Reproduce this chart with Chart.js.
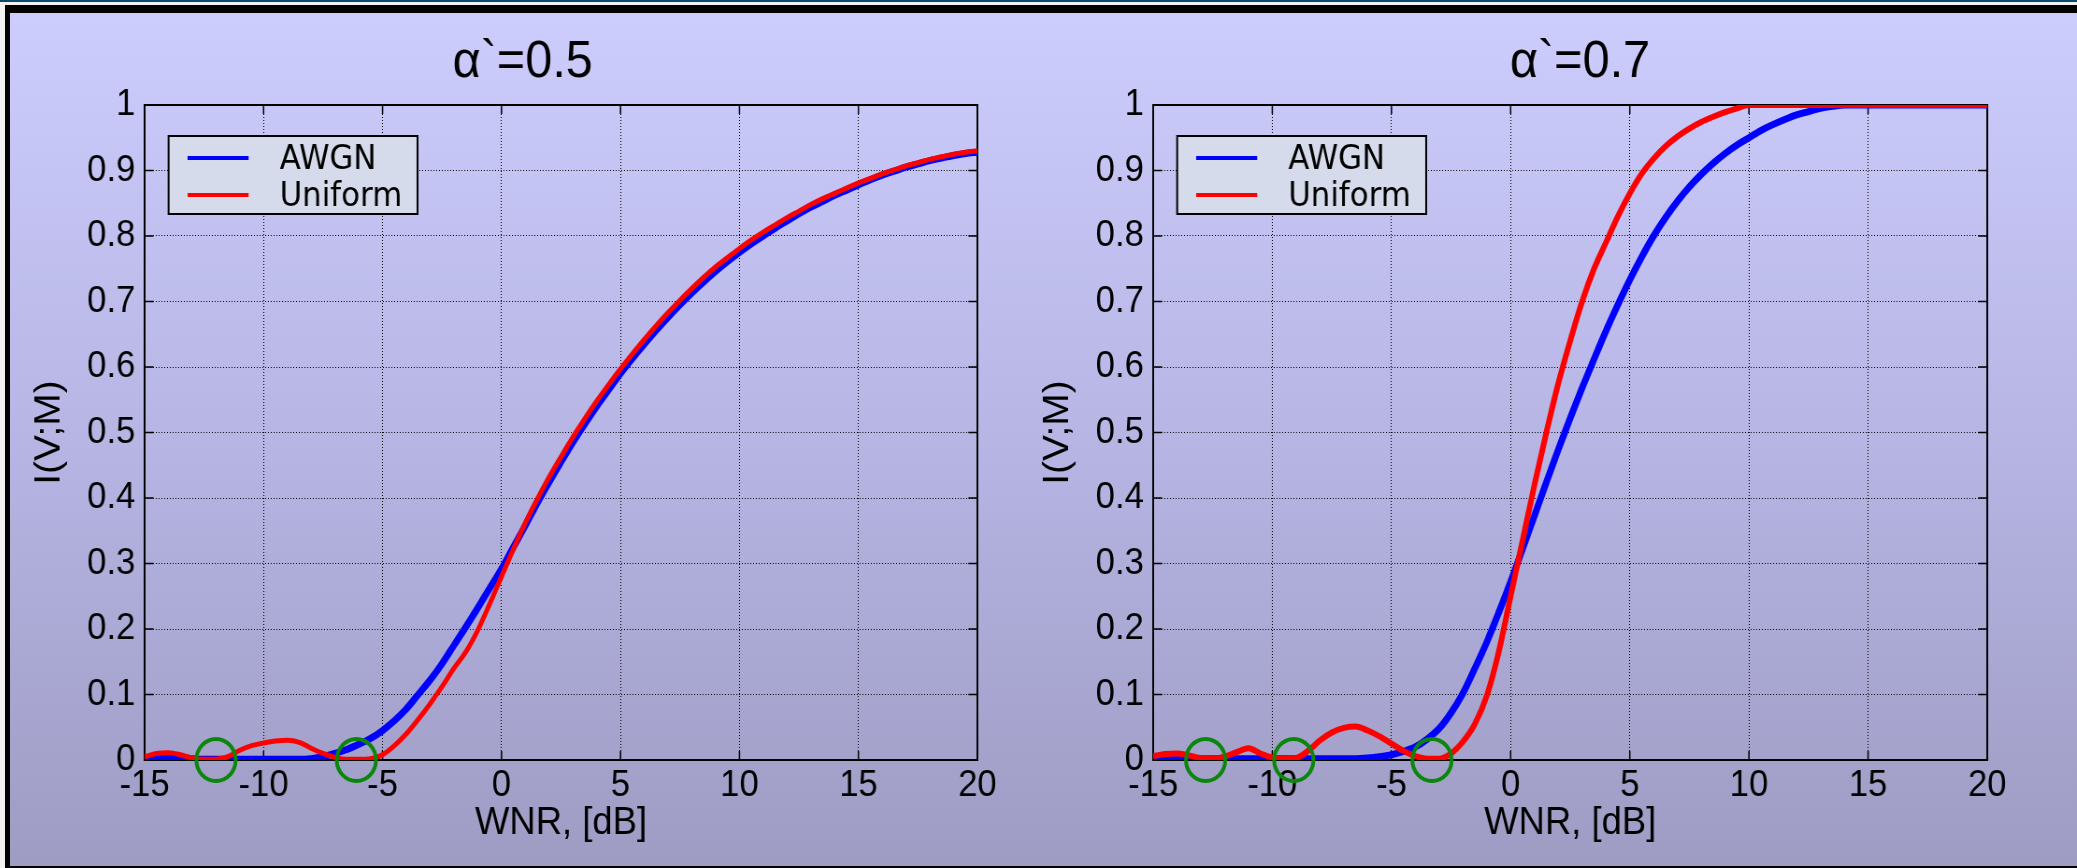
<!DOCTYPE html>
<html>
<head>
<meta charset="utf-8">
<script src="https://cdn.jsdelivr.net/npm/chart.js@4.4.1/dist/chart.umd.min.js"></script>
<style>
  html, body { margin: 0; padding: 0; background: #fff; }
  #page { position: relative; width: 2077px; height: 868px; overflow: hidden; background: #f2f2f2; }
  #topline { position: absolute; left: 0; top: 0; width: 2077px; height: 2px; background: #0c4a6c; }
  #frame { position: absolute; left: 5px; top: 5px; width: 2072px; height: 863px; background: #000; }
  #panel { position: absolute; left: 10px; top: 13px; width: 2067px; height: 853px;
           background: linear-gradient(to bottom, #cdcdfd 0%, #b6b5e4 50%, #9e9cc3 100%); }
  canvas { position: absolute; top: 13px; }
  #left { left: 10px; }
  #right { left: 1040px; }
</style>
</head>
<body>
<div id="page">
  <div id="topline"></div>
  <div id="frame"></div>
  <div id="panel"></div>
  <!-- the original figure is squeezed horizontally, so the canvases are drawn wider and shown narrower -->
  <canvas id="left" width="1102" height="853" style="width:1030px;height:853px"></canvas>
  <canvas id="right" width="1109" height="853" style="width:1037px;height:853px"></canvas>
</div>
<script>
// x samples (WNR in dB), shared by all curves
var wnr = [-15, -14.5, -14, -13.5, -13, -12.5, -12, -11.5, -11, -10.5,
           -10, -9.5, -9, -8.5, -8, -7.5, -7, -6.5, -6, -5.5,
           -5, -4.5, -4, -3.5, -3, -2.5, -2, -1.5, -1, -0.5,
           0, 0.5, 1, 1.5, 2, 2.5, 3, 3.5, 4, 4.5,
           5, 5.5, 6, 6.5, 7, 7.5, 8, 8.5, 9, 9.5,
           10, 10.5, 11, 11.5, 12, 12.5, 13, 13.5, 14, 14.5,
           15, 15.5, 16, 16.5, 17, 17.5, 18, 18.5, 19, 19.5,
           20];

// alpha' = 0.5
var awgn05 = [0.002, 0.004, 0.005, 0.004, 0.002, 0.001, 0.001, 0.001, 0.001, 0.001,
              0.001, 0.001, 0.001, 0.001, 0.002, 0.005, 0.010, 0.016, 0.024, 0.033,
              0.045, 0.060, 0.078, 0.100, 0.122, 0.147, 0.175, 0.203, 0.232, 0.262,
              0.292, 0.325, 0.358, 0.392, 0.424, 0.455, 0.485, 0.513, 0.540, 0.565,
              0.590, 0.613, 0.635, 0.656, 0.676, 0.695, 0.713, 0.730, 0.746, 0.761,
              0.775, 0.788, 0.800, 0.812, 0.823, 0.834, 0.844, 0.853, 0.862, 0.870,
              0.878, 0.886, 0.893, 0.899, 0.905, 0.910, 0.915, 0.919, 0.923, 0.926,
              0.928];
var uniform05 = [0.005, 0.010, 0.011, 0.008, 0.003, 0.001, 0.001, 0.005, 0.015, 0.022,
                 0.026, 0.029, 0.030, 0.027, 0.018, 0.010, 0.004, 0.001, 0.001, 0.002,
                 0.008, 0.022, 0.040, 0.062, 0.086, 0.112, 0.140, 0.165, 0.198, 0.238,
                 0.280, 0.322, 0.362, 0.398, 0.432, 0.463, 0.493, 0.521, 0.548, 0.573,
                 0.597, 0.620, 0.642, 0.663, 0.683, 0.702, 0.720, 0.737, 0.753, 0.767,
                 0.781, 0.794, 0.806, 0.817, 0.828, 0.838, 0.848, 0.857, 0.865, 0.873,
                 0.881, 0.888, 0.895, 0.901, 0.907, 0.912, 0.917, 0.921, 0.925, 0.928,
                 0.930];

// alpha' = 0.7
var awgn07 = [0.002, 0.002, 0.002, 0.002, 0.002, 0.002, 0.002, 0.002, 0.002, 0.002,
              0.002, 0.002, 0.002, 0.002, 0.002, 0.002, 0.002, 0.002, 0.003, 0.005,
              0.008, 0.013, 0.020, 0.032, 0.048, 0.072, 0.102, 0.140, 0.180, 0.225,
              0.272, 0.322, 0.373, 0.424, 0.474, 0.522, 0.568, 0.612, 0.655, 0.695,
              0.733, 0.768, 0.800, 0.828, 0.853, 0.875, 0.894, 0.911, 0.926, 0.939,
              0.950, 0.961, 0.970, 0.978, 0.985, 0.990, 0.995, 0.998, 1.000, 1.000,
              1.000, 1.000, 1.000, 1.000, 1.000, 1.000, 1.000, 1.000, 1.000, 1.000,
              1.000];
var uniform07 = [0.006, 0.009, 0.010, 0.007, 0.003, 0.002, 0.005, 0.012, 0.018, 0.010,
                 0.004, 0.002, 0.003, 0.014, 0.030, 0.042, 0.049, 0.051, 0.045, 0.036,
                 0.025, 0.014, 0.006, 0.002, 0.002, 0.010, 0.028, 0.055, 0.098, 0.165,
                 0.250, 0.335, 0.420, 0.500, 0.575, 0.640, 0.700, 0.750, 0.790, 0.830,
                 0.865, 0.895, 0.918, 0.937, 0.952, 0.964, 0.974, 0.982, 0.989, 0.995,
                 1.000, 1.000, 1.000, 1.000, 1.000, 1.000, 1.000, 1.000, 1.000, 1.000,
                 1.000, 1.000, 1.000, 1.000, 1.000, 1.000, 1.000, 1.000, 1.000, 1.000,
                 1.000];

// green circles (WNR where the uniform curve touches zero)
var marks05 = [-12.0, -6.1];
var marks07 = [-12.8, -9.1, -3.3];

var xTicks = [-15, -10, -5, 0, 5, 10, 15, 20];
var yTicks = [0, 0.1, 0.2, 0.3, 0.4, 0.5, 0.6, 0.7, 0.8, 0.9, 1];
var seriesNames = ['AWGN', 'Uniform'];
var seriesColors = ['#0000ff', '#ff0000'];
var panelTitles = ['\u03b1`=0.5', '\u03b1`=0.7'];
var xTitle = 'WNR, [dB]';
var yTitle = 'I(V;M)';

var SQ = 0.935; // horizontal squeeze of the original figure
var tickFont = { family: "'Liberation Sans', Arial, sans-serif", size: 37 };
var axisFont = { family: "'Liberation Sans', Arial, sans-serif", size: 39 };
var titleFont = { family: "'Liberation Sans', Arial, sans-serif", size: 52, weight: 'normal' };

function toPoints(ys) {
    return ys.map(function (y, i) { return { x: wnr[i], y: y }; });
}

// frame, inner ticks, legend box and title offset
var panelDecor = {
    id: 'panelDecor',
    afterLayout: function (chart, args, opts) {
        if (chart.titleBlock && opts.titleShift) {
            chart.titleBlock.left += opts.titleShift;
            chart.titleBlock.right += opts.titleShift;
        }
    },
    beforeDatasetsDraw: function (chart) {
        var ctx = chart.ctx, a = chart.chartArea;
        var xs = chart.scales.x, ys = chart.scales.y;
        ctx.save();
        ctx.strokeStyle = '#000';
        ctx.lineWidth = 1.5;
        ctx.beginPath();
        xs.ticks.forEach(function (t) {
            var px = xs.getPixelForValue(t.value);
            ctx.moveTo(px, a.bottom); ctx.lineTo(px, a.bottom - 9);
            ctx.moveTo(px, a.top); ctx.lineTo(px, a.top + 9);
        });
        ys.ticks.forEach(function (t) {
            var py = ys.getPixelForValue(t.value);
            ctx.moveTo(a.left, py); ctx.lineTo(a.left + 9 / SQ, py);
            ctx.moveTo(a.right, py); ctx.lineTo(a.right - 9 / SQ, py);
        });
        ctx.stroke();
        ctx.lineWidth = 2;
        ctx.strokeRect(a.left, a.top, a.right - a.left, a.bottom - a.top);
        ctx.restore();
    },
    afterDraw: function (chart) {
        var ctx = chart.ctx, a = chart.chartArea;
        var bx = a.left + 24 / SQ, by = a.top + 31, bw = 249 / SQ, bh = 78;
        ctx.save();
        ctx.fillStyle = '#d5dbea';
        ctx.fillRect(bx, by, bw, bh);
        ctx.strokeStyle = '#000';
        ctx.lineWidth = 2;
        ctx.strokeRect(bx, by, bw, bh);
        ctx.font = '33px "DejaVu Sans", sans-serif';
        ctx.textBaseline = 'middle';
        seriesNames.forEach(function (name, i) {
            var y = by + 22 + i * 37;
            ctx.strokeStyle = seriesColors[i];
            ctx.lineWidth = 4;
            ctx.beginPath();
            ctx.moveTo(bx + 19 / SQ, y);
            ctx.lineTo(bx + 80 / SQ, y);
            ctx.stroke();
            ctx.fillStyle = '#000';
            ctx.fillText(name, bx + 111 / SQ, y + 2);
        });
        ctx.restore();
    }
};

function makePanel(canvasId, title, awgn, uniform, marks, o) {
    var markPoints = marks.map(function (x) { return { x: x, y: 0 }; });
    return new Chart(document.getElementById(canvasId), {
        type: 'line',
        data: {
            datasets: [
                {
                    label: 'marks',
                    data: markPoints,
                    showLine: false,
                    pointStyle: 'circle',
                    pointRadius: 21,
                    pointHoverRadius: 21,
                    pointBackgroundColor: 'rgba(0,0,0,0)',
                    pointBorderColor: '#0b860b',
                    pointBorderWidth: 4,
                    clip: false
                },
                {
                    label: seriesNames[1],
                    data: toPoints(uniform),
                    borderColor: seriesColors[1],
                    borderWidth: o.redWidth,
                    pointRadius: 0,
                    cubicInterpolationMode: 'monotone'
                },
                {
                    label: seriesNames[0],
                    data: toPoints(awgn),
                    borderColor: seriesColors[0],
                    borderWidth: 7,
                    pointRadius: 0,
                    cubicInterpolationMode: 'monotone'
                }
            ]
        },
        options: {
            responsive: false,
            animation: false,
            events: [],
            layout: { padding: { left: o.padLeft, right: o.padRight, top: 0, bottom: 6 } },
            plugins: {
                legend: { display: false },
                tooltip: { enabled: false },
                title: {
                    display: true,
                    text: title,
                    color: '#000',
                    font: titleFont,
                    padding: { top: 18, bottom: 11.6 }
                },
                panelDecor: { titleShift: o.titleShift }
            },
            scales: {
                x: {
                    type: 'linear',
                    min: -15,
                    max: 20,
                    afterBuildTicks: function (s) {
                        s.ticks = xTicks.map(function (v) { return { value: v }; });
                    },
                    afterFit: function (s) { s.height = 100; },
                    ticks: { color: '#000', font: tickFont, padding: 4, maxRotation: 0, autoSkip: false },
                    grid: { color: '#000', lineWidth: 1, drawTicks: false },
                    border: { display: false, dash: [1, 2] },
                    title: { display: true, text: xTitle, color: '#000', font: axisFont, padding: { top: 0, bottom: 13 } }
                },
                y: {
                    type: 'linear',
                    min: 0,
                    max: 1,
                    afterBuildTicks: function (s) {
                        s.ticks = yTicks.map(function (v) { return { value: v }; });
                    },
                    afterFit: function (s) { s.width = o.yWidth; },
                    ticks: {
                        color: '#000', font: tickFont, padding: 10, autoSkip: false,
                        callback: function (v) { return String(v); }
                    },
                    grid: { color: '#000', lineWidth: 1, drawTicks: false },
                    border: { display: false, dash: [1, 2] },
                    title: { display: true, text: yTitle, color: '#000', font: axisFont, padding: { top: o.yTitlePad, bottom: 0 } }
                }
            }
        },
        plugins: [panelDecor]
    });
}

makePanel('left', panelTitles[0], awgn05, uniform05, marks05,
    { padLeft: 10, padRight: 67, yWidth: 134, yTitlePad: 9, titleShift: 26, redWidth: 5 });
makePanel('right', panelTitles[1], awgn07, uniform07, marks07,
    { padLeft: 0, padRight: 96, yWidth: 121, yTitlePad: -4, titleShift: 71, redWidth: 6 });
</script>
</body>
</html>
